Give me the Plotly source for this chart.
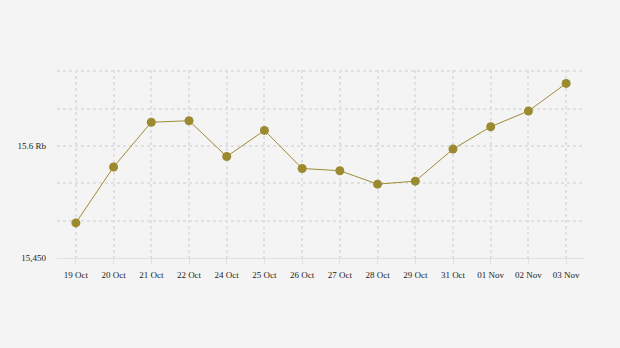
import plotly.graph_objects as go

dates = ["19 Oct", "20 Oct", "21 Oct", "22 Oct", "24 Oct", "25 Oct", "26 Oct",
         "27 Oct", "28 Oct", "29 Oct", "31 Oct", "01 Nov", "02 Nov", "03 Nov"]
rates = [15497, 15572, 15632, 15634, 15586, 15621, 15570,
         15567, 15549, 15553, 15596, 15626, 15647, 15684]
y_tickvals = [15450, 15500, 15550, 15600, 15650, 15700]
y_ticktext = ["15,450", "", "", "15.6 Rb", "", ""]

fig = go.Figure()
fig.add_trace(go.Scatter(
    x=list(range(len(dates))), y=rates, mode="lines+markers",
    line=dict(color="#a08c34", width=1),
    marker=dict(color="#9c8a30", size=9),
    hoverinfo="skip",
))

grid = "#e0e0e0"
tick_font = dict(family="Liberation Serif, Times New Roman, serif", size=9, color="#222222")
fig.update_layout(
    width=620, height=348,
    paper_bgcolor="#f4f4f4", plot_bgcolor="#f4f4f4",
    margin=dict(l=57, r=35, t=70, b=90),
    showlegend=False,
    font=tick_font,
    xaxis=dict(
        range=[-0.5, len(dates) - 0.5],
        tickvals=list(range(len(dates))), ticktext=dates,
        showgrid=True, gridcolor=grid, gridwidth=2, griddash="3px,3px",
        zeroline=False, showline=True, linecolor=grid, linewidth=1,
        ticks="outside", ticklen=5, tickcolor=grid, tickwidth=1,
        ticklabelstandoff=3, tickfont=tick_font,
        fixedrange=True,
    ),
    yaxis=dict(
        range=[15450, 15702],
        tickvals=y_tickvals, ticktext=y_ticktext,
        showgrid=True, gridcolor=grid, gridwidth=2, griddash="3px,3px",
        zeroline=False, showline=False, ticks="", ticklabelstandoff=10,
        tickfont=tick_font,
        fixedrange=True,
    ),
)

fig.write_html("out.html")
